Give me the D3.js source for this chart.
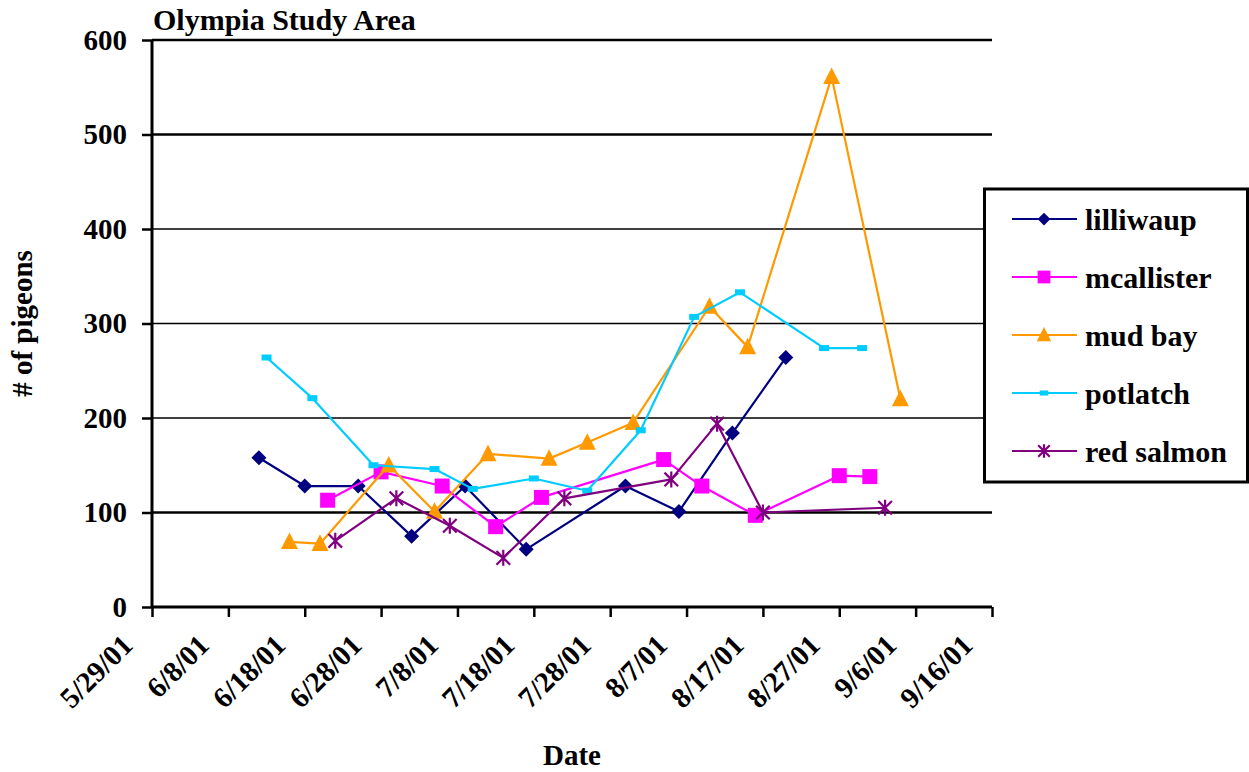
<!DOCTYPE html>
<html>
<head>
<meta charset="utf-8">
<script src="https://cdn.jsdelivr.net/npm/d3@7"></script>
<style>
  html, body { margin: 0; padding: 0; background: #fff; }
</style>
</head>
<body>
<svg id="chart" width="1249" height="772"></svg>
<script>
// Pigeon counts per site, Olympia study area, summer 2001
const tickLabels = ["5/29/01","6/8/01","6/18/01","6/28/01","7/8/01","7/18/01","7/28/01","8/7/01","8/17/01","8/27/01","9/6/01","9/16/01"];
const yTicks = [0, 100, 200, 300, 400, 500, 600];

const seriesNames = ["lilliwaup", "mcallister", "mud bay", "potlatch", "red salmon"];

const lilliwaupDates  = ["6/12/01","6/18/01","6/25/01","7/2/01","7/9/01","7/17/01","7/30/01","8/6/01","8/13/01","8/20/01"];
const lilliwaupValues = [158, 128, 128, 75, 128, 61, 128, 101, 184, 264];

const mcallisterDates  = ["6/21/01","6/28/01","7/6/01","7/13/01","7/19/01","8/4/01","8/9/01","8/16/01","8/27/01","8/31/01"];
const mcallisterValues = [113, 143, 128, 85, 116, 156, 128, 97, 139, 138];

const mudBayDates  = ["6/16/01","6/20/01","6/29/01","7/5/01","7/12/01","7/20/01","7/25/01","7/31/01","8/10/01","8/15/01","8/26/01","9/4/01"];
const mudBayValues = [69, 67, 150, 101, 162, 157, 174, 195, 318, 275, 561, 220];

const potlatchDates  = ["6/13/01","6/19/01","6/27/01","7/5/01","7/10/01","7/18/01","7/25/01","8/1/01","8/8/01","8/14/01","8/25/01","8/30/01"];
const potlatchValues = [264, 221, 150, 146, 125, 136, 123, 187, 307, 333, 274, 274];

const redSalmonDates  = ["6/22/01","6/30/01","7/7/01","7/14/01","7/22/01","8/5/01","8/11/01","8/17/01","9/2/01"];
const redSalmonValues = [70, 115, 86, 52, 115, 135, 194, 100, 105];

const FONT = "'Liberation Serif', 'Times New Roman', Times, 'DejaVu Serif', serif";

const parseDate = d3.timeParse("%m/%d/%y");
const fmtDate = d3.timeFormat("%-m/%-d/%y");

const series = [
  { name: seriesNames[0], dates: lilliwaupDates,  values: lilliwaupValues,  color: "#000080", marker: "diamond" },
  { name: seriesNames[1], dates: mcallisterDates, values: mcallisterValues, color: "#FF00FF", marker: "square" },
  { name: seriesNames[2], dates: mudBayDates,     values: mudBayValues,     color: "#FF9900", marker: "triangle" },
  { name: seriesNames[3], dates: potlatchDates,   values: potlatchValues,   color: "#00CCFF", marker: "dash" },
  { name: seriesNames[4], dates: redSalmonDates,  values: redSalmonValues,  color: "#800080", marker: "star" }
].map(s => ({ ...s, points: s.dates.map((d, i) => ({ date: parseDate(d), value: s.values[i] })) }));

const svg = d3.select("#chart");
const plot = { left: 152, right: 992, top: 40, bottom: 607 };

const tickDates = tickLabels.map(parseDate);
const x = d3.scaleTime().domain([tickDates[0], tickDates[tickDates.length - 1]]).range([plot.left, plot.right]);
const y = d3.scaleLinear().domain([0, 600]).range([plot.bottom, plot.top]);

function styleText(sel, size) {
  sel.attr("font-family", null)
    .style("font-family", FONT)
    .style("font-weight", "bold")
    .style("font-size", size + "px")
    .style("fill", "#000");
}

// horizontal gridlines
svg.append("g")
  .selectAll("line")
  .data(yTicks.filter(v => v > 0))
  .join("line")
  .attr("x1", plot.left).attr("x2", plot.right)
  .attr("y1", d => y(d)).attr("y2", d => y(d))
  .attr("stroke", "#000")
  .attr("stroke-width", d => (d === 600 || d === 500 || d === 100) ? 2.4 : 1.5);

// y axis
const yAxis = svg.append("g")
  .attr("transform", `translate(${plot.left},0)`)
  .call(d3.axisLeft(y).tickValues(yTicks).tickSize(10).tickPadding(15).tickFormat(d3.format("d")));
yAxis.attr("font-family", null);
yAxis.select(".domain").attr("stroke-width", 3).attr("d", `M0,${plot.top}V${plot.bottom}`);
yAxis.selectAll(".tick line").attr("stroke-width", 2.5);
styleText(yAxis.selectAll(".tick text"), 29);

// x axis
const xAxis = svg.append("g")
  .attr("transform", `translate(0,${plot.bottom})`)
  .call(d3.axisBottom(x).tickValues(tickDates).tickSize(10).tickFormat(fmtDate));
xAxis.attr("font-family", null);
xAxis.select(".domain").attr("stroke-width", 3).attr("d", `M${plot.left},0H${plot.right}`);
xAxis.selectAll(".tick line").attr("stroke-width", 2.5);
styleText(xAxis.selectAll(".tick text"), 29);
xAxis.selectAll(".tick text")
  .attr("text-anchor", "end")
  .attr("dy", null)
  .attr("y", 0)
  .attr("transform", "translate(-18,40) rotate(-45)");

// marker shapes
function drawMarker(g, type, color, scale) {
  const k = scale || 1;
  if (type === "diamond") {
    const r = 7.5 * k;
    g.append("path").attr("d", `M0,${-r}L${r},0L0,${r}L${-r},0Z`).attr("fill", color);
  } else if (type === "square") {
    const r = 7.5 * k;
    g.append("rect").attr("x", -r).attr("y", -r).attr("width", 2 * r).attr("height", 2 * r).attr("fill", color);
  } else if (type === "triangle") {
    const r = 8.5 * k;
    g.append("path").attr("d", `M0,${-r * 1.1}L${r},${r * 0.85}L${-r},${r * 0.85}Z`).attr("fill", color);
  } else if (type === "dash") {
    const w = 10 * k, h = 6 * k;
    g.append("rect").attr("x", -w / 2).attr("y", -h / 2).attr("width", w).attr("height", h).attr("fill", color);
  } else if (type === "star") {
    const r = 8 * k, d = r * 0.85;
    g.append("path")
      .attr("d", `M0,${-r}V${r}M${-d},${-d}L${d},${d}M${-d},${d}L${d},${-d}`)
      .attr("stroke", color).attr("stroke-width", 2.2).attr("fill", "none");
  }
}

const line = d3.line().x(d => x(d.date)).y(d => y(d.value));

series.forEach(s => {
  const g = svg.append("g");
  g.append("path").datum(s.points)
    .attr("d", line)
    .attr("fill", "none")
    .attr("stroke", s.color)
    .attr("stroke-width", 2.2)
    .attr("stroke-linejoin", "round");
  s.points.forEach(p => {
    const mg = g.append("g").attr("transform", `translate(${x(p.date)},${y(p.value)})`);
    drawMarker(mg, s.marker, s.color, 1);
  });
});

// title
styleText(svg.append("text").attr("x", 153).attr("y", 30).text("Olympia Study Area"), 30);

// axis titles
styleText(svg.append("text")
  .attr("x", (plot.left + plot.right) / 2).attr("y", 765)
  .attr("text-anchor", "middle").text("Date"), 29);
styleText(svg.append("text")
  .attr("transform", `translate(32,${(plot.top + plot.bottom) / 2}) rotate(-90)`)
  .attr("text-anchor", "middle").text("# of pigeons"), 29);

// legend
const legend = svg.append("g");
legend.append("rect")
  .attr("x", 984.5).attr("y", 189).attr("width", 263).attr("height", 293)
  .attr("fill", "#fff").attr("stroke", "#000").attr("stroke-width", 3);
const legendY = d3.scalePoint().domain(seriesNames).range([219, 451]);
series.forEach(s => {
  const ly = legendY(s.name);
  const item = legend.append("g").attr("transform", `translate(0,${ly})`);
  item.append("line").attr("x1", 1012).attr("x2", 1077).attr("y1", 0).attr("y2", 0)
    .attr("stroke", s.color).attr("stroke-width", 2.2);
  const mg = item.append("g").attr("transform", "translate(1044,0)");
  drawMarker(mg, s.marker, s.color, 0.85);
  styleText(item.append("text").attr("x", 1085).attr("y", 0).attr("dy", "0.35em").text(s.name), 30);
});
</script>
</body>
</html>
